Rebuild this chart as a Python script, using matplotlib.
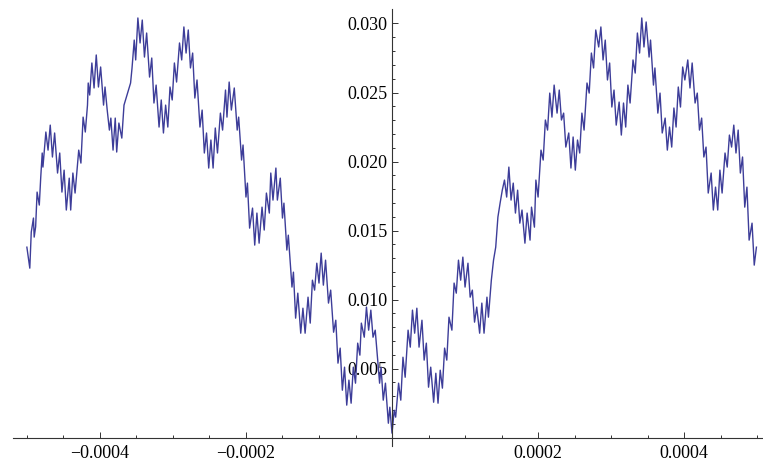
import matplotlib
matplotlib.use("Agg")
import matplotlib.pyplot as plt
import numpy as np

# curve: x in units of 1e-6, y in units of 1e-4
x_left = [-500, -496, -494, -491, -490, -488, -486, -483, -481, -479,
          -478, -474, -471, -468, -465, -462, -458, -455, -452, -449,
          -446, -442, -440, -437, -434, -431, -429, -426, -423, -420,
          -417, -416, -414, -411, -408, -405, -402, -399, -395, -393,
          -390, -387, -385, -382, -379, -377, -374, -370, -367, -358,
          -356, -353, -351, -348, -345, -342, -339, -336, -332, -329,
          -326, -323, -319, -316, -313, -310, -307, -304, -301, -298,
          -295, -291, -288, -285, -282, -279, -276, -273, -270, -267,
          -263, -260, -257, -254, -251, -248, -245, -242, -239, -235,
          -232, -228, -226, -223, -220, -216, -212, -210, -206, -204,
          -200, -198, -195, -191, -188, -185, -182, -178, -175, -172,
          -168, -166, -163, -159, -157, -153, -150, -148, -144, -142,
          -137, -135, -132, -129, -125, -122, -119, -115, -112, -109,
          -106, -103, -100, -97, -94, -91, -87, -84, -80, -77,
          -74, -71, -68, -65, -62, -59, -56, -53, -50, -47,
          -44, -42, -38, -35, -32, -29, -26, -23, -20, -17,
          -15, -12, -9, -5, -3, 0]
y_left = [138.0, 122.8, 148.9, 159.1, 145.3, 152.8, 177.9, 168.5, 188.8, 206.2,
          196.0, 221.4, 208.3, 226.4, 203.3, 220.7, 191.7, 206.2, 177.9, 193.8,
          164.9, 188.0, 164.9, 191.7, 177.2, 196.0, 208.3, 198.9, 232.2, 221.4,
          240.9, 256.9, 248.2, 271.4, 253.3, 277.2, 254.0, 268.5, 240.9, 254.0,
          237.3, 222.8, 231.5, 208.3, 231.5, 206.9, 227.9, 217.0, 240.9, 256.9,
          267.8, 288.0, 273.6, 304.0, 285.9, 302.5, 275.7, 293.1, 261.2, 275.0,
          242.4, 255.4, 225.0, 244.6, 220.7, 240.9, 225.0, 254.0, 244.6, 271.4,
          257.6, 285.9, 273.6, 297.5, 278.6, 295.3, 267.8, 278.6, 246.0, 259.1,
          225.0, 237.3, 206.2, 220.7, 195.3, 215.6, 195.3, 224.3, 206.2, 235.1,
          222.8, 251.8, 232.2, 257.6, 237.3, 253.3, 222.8, 232.2, 201.1, 212.0,
          174.3, 184.4, 151.8, 166.3, 139.5, 162.7, 140.9, 167.0, 150.4, 177.2,
          162.7, 191.7, 172.1, 195.3, 172.1, 188.0, 159.1, 169.9, 135.9, 146.7,
          109.1, 119.9, 86.6, 104.7, 75.7, 93.8, 75.7, 101.8, 83.0, 114.1,
          106.9, 126.4, 112.0, 133.7, 110.5, 128.6, 97.5, 106.9, 76.4, 85.1,
          54.0, 64.9, 34.4, 51.1, 23.6, 41.7, 25.0, 51.1, 39.5, 68.5,
          59.8, 83.0, 72.8, 94.6, 77.9, 92.4, 72.8, 77.9, 58.3, 39.5,
          51.1, 27.2, 39.5, 10.5, 22.1, 3.3]

x_right = [3, 5, 9, 12, 15, 18, 22, 25, 28, 31,
           34, 37, 41, 44, 47, 50, 53, 57, 60, 63,
           66, 69, 72, 75, 78, 82, 85, 88, 91, 94,
           97, 100, 104, 107, 110, 113, 116, 120, 123, 126,
           130, 132, 136, 139, 142, 145, 148, 151, 154, 157,
           160, 163, 166, 169, 172, 175, 178, 182, 185, 189,
           191, 195, 197, 200, 204, 207, 210, 213, 216, 219,
           222, 226, 229, 232, 235, 238, 242, 245, 248, 251,
           254, 257, 260, 263, 267, 270, 273, 276, 279, 283,
           286, 289, 292, 295, 298, 301, 304, 307, 311, 314,
           317, 320, 323, 326, 330, 333, 336, 339, 342, 345,
           348, 352, 354, 358, 360, 364, 367, 370, 374, 377,
           380, 383, 386, 389, 392, 395, 398, 401, 405, 408,
           411, 415, 418, 421, 424, 427, 430, 433, 437, 440,
           443, 446, 449, 452, 456, 459, 462, 465, 468, 471,
           474, 477, 480, 483, 486, 489, 493, 496, 499]
y_right = [19.9, 14.9, 39.5, 27.2, 58.3, 43.8, 77.9, 65.6, 92.4, 75.7,
           93.8, 65.6, 85.1, 56.2, 68.5, 36.6, 51.1, 25.7, 46.7, 25.0,
           48.9, 35.9, 64.9, 56.2, 87.3, 77.9, 112.0, 104.7, 128.6, 114.1,
           130.8, 109.1, 126.4, 101.8, 106.9, 83.7, 94.6, 75.7, 97.5, 75.7,
           101.8, 87.3, 114.1, 128.6, 138.0, 159.8, 169.9, 179.3, 186.6, 174.3,
           196.0, 172.1, 184.4, 162.7, 179.3, 155.4, 164.9, 140.9, 162.7, 143.1,
           167.0, 152.5, 186.6, 174.3, 208.3, 201.1, 230.1, 222.8, 249.6, 232.2,
           255.4, 235.1, 251.8, 230.1, 235.1, 210.5, 220.7, 195.3, 217.8, 193.8,
           215.6, 206.2, 235.1, 222.8, 256.9, 249.6, 278.6, 267.8, 295.3, 283.0,
           297.5, 273.6, 288.0, 259.1, 271.4, 239.5, 251.8, 226.4, 243.1, 219.2,
           242.4, 225.0, 255.4, 242.4, 273.6, 264.1, 293.1, 278.6, 304.0, 283.0,
           301.1, 275.7, 288.0, 255.4, 267.8, 235.1, 249.6, 220.7, 231.5, 208.3,
           225.0, 210.5, 238.8, 225.0, 254.0, 239.5, 268.5, 259.1, 273.6, 253.3,
           271.4, 242.4, 249.6, 222.8, 231.5, 203.3, 210.5, 177.2, 191.7, 164.9,
           181.5, 164.9, 193.8, 177.2, 206.2, 196.0, 219.2, 210.5, 226.4, 206.2,
           222.8, 191.7, 203.3, 167.0, 181.5, 143.1, 155.4, 125.0, 138.0]

x_ticks = [-0.0004, -0.0002, 0.0002, 0.0004]
x_labels = ["\u22120.0004", "\u22120.0002", "0.0002", "0.0004"]
y_ticks = [0.005, 0.010, 0.015, 0.020, 0.025, 0.030]
y_labels = ["0.005", "0.010", "0.015", "0.020", "0.025", "0.030"]

x = np.array(x_left + x_right) * 1e-6
y = np.array(y_left + y_right) * 1e-4

fig = plt.figure(figsize=(7.63, 4.63), dpi=100)
ax = fig.add_axes([13 / 763, 17 / 463, 750 / 763, 437 / 463])
ax.plot(x, y, color="#3d3d99", lw=1.0)

ax.set_xlim(-0.000519, 0.000508)
ax.set_ylim(-0.0006, 0.03105)

for side in ["top", "right"]:
    ax.spines[side].set_visible(False)
ax.spines["left"].set_position(("data", 0))
ax.spines["bottom"].set_position(("data", 0))
for side in ["left", "bottom"]:
    ax.spines[side].set_color("#333333")
    ax.spines[side].set_linewidth(0.8)

ax.set_xticks(x_ticks)
ax.set_xticklabels(x_labels)
ax.set_yticks(y_ticks)
ax.set_yticklabels(y_labels)
ax.set_xticks(np.arange(-0.0005, 0.00051, 0.00005), minor=True)
ax.set_yticks(np.arange(0.001, 0.0305, 0.001), minor=True)

ax.tick_params(which="both", direction="in", color="#333333", width=0.7)
ax.tick_params(which="major", length=4)
ax.tick_params(which="minor", length=2.5)
ax.tick_params(axis="x", pad=5)
ax.tick_params(axis="y", pad=3)
for lab in ax.get_xticklabels() + ax.get_yticklabels():
    lab.set_fontfamily("Liberation Serif")
    lab.set_fontsize(13)

fig.savefig("out.png", dpi=100)
